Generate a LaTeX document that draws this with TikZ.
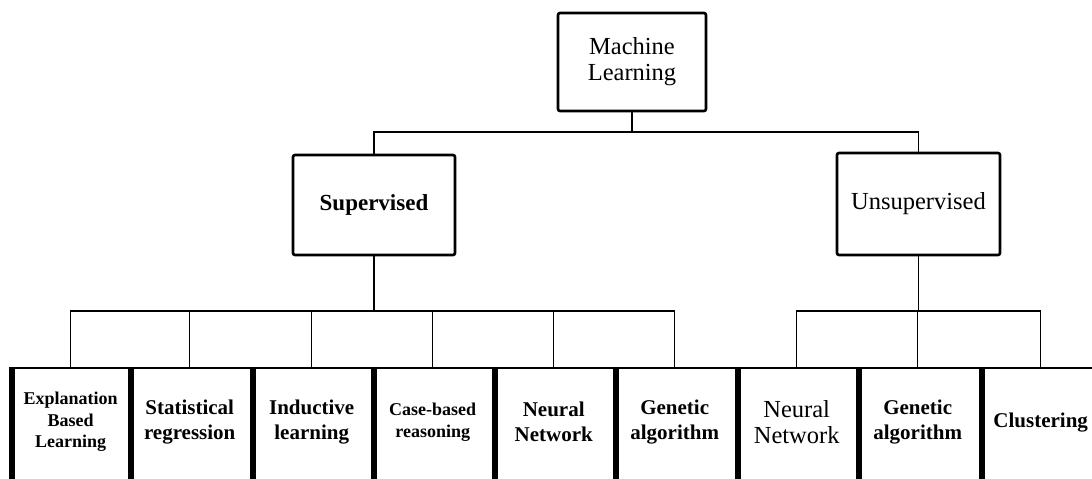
\documentclass[tikz,border=0pt]{standalone}
\usepackage{fontspec}
\setmainfont{Liberation Serif}
\begin{document}
\begin{tikzpicture}[x=1pt,y=-1pt,
  topbox/.style={draw, line width=2.6pt, rounded corners=2pt, align=center, inner sep=0pt},
  conn/.style={line width=1.4pt},
  leaf/.style={anchor=north west, align=center, inner sep=0pt, minimum width=121pt, minimum height=108pt},
  thinedge/.style={line width=1.8pt},
  thickedge/.style={line width=6pt},
  fa/.style={font=\fontsize{24.5}{26}\selectfont},
  fb/.style={font=\bfseries\fontsize{21}{25}\selectfont},
  fc/.style={font=\bfseries\fontsize{18}{21.5}\selectfont}]
\clip (0,0) rectangle (1092,479);
\fill[white] (0,0) rectangle (1092,479);

% top level
\node[topbox, fa, minimum width=148pt, minimum height=98pt] (ml) at (632,62) {Machine\\Learning};
\node[topbox, font=\bfseries\fontsize{23}{26}\selectfont, minimum width=162pt, minimum height=100pt] (sup) at (374,205) {Supervised};
\node[topbox, fa, minimum width=163pt, minimum height=102pt] (uns) at (918.5,204) {Unsupervised};

% leaves
\node[leaf, fc] (b1) at (10,368) {Explanation\\Based\\Learning};
\node[leaf, fb] (b2) at (129,368) {Statistical\\regression};
\node[leaf, fb] (b3) at (251,368) {Inductive\\learning};
\node[leaf, fc] (b4) at (372,368) {Case-based\\reasoning};
\node[leaf, fb] (b5) at (493,368) {Neural\\Network};
\node[leaf, fb] (b6) at (614,368) {Genetic\\algorithm};
\node[leaf, fa] (b7) at (736,368) {Neural\\Network};
\node[leaf, fb] (b8) at (857,368) {Genetic\\algorithm};
\node[leaf, fb] (b9) at (980,368) {Clustering};

% leaf frames
\draw[thinedge] (b1.north west) -- (b9.north east);
\foreach \b in {b1,b2,b3,b4,b5,b6,b7,b8,b9}{
  \draw[thickedge] (\b.north west) ++(1.5,-0.9) -- ++(0,130);
}
\draw[thinedge] (b9.north east) -- ++(0,130);

% connectors
\coordinate (tb) at (0,132);
\coordinate (lb) at (0,311);
\draw[conn] (ml.south) -- (ml.south |- tb);
\draw[conn] (sup.north) -- (sup.north |- tb) -- (uns.north |- tb) -- (uns.north);
\draw[conn] (sup.south) -- (sup.south |- lb);
\draw[conn] (b1.north) -- (b1.north |- lb) -- (b6.north |- lb) -- (b6.north);
\foreach \b in {b2,b3,b4,b5}{\draw[conn] (\b.north) -- (\b.north |- lb);}
\draw[conn] (uns.south) -- (uns.south |- lb);
\draw[conn] (b7.north) -- (b7.north |- lb) -- (b9.north |- lb) -- (b9.north);
\draw[conn] (b8.north) -- (b8.north |- lb);
\end{tikzpicture}
\end{document}
